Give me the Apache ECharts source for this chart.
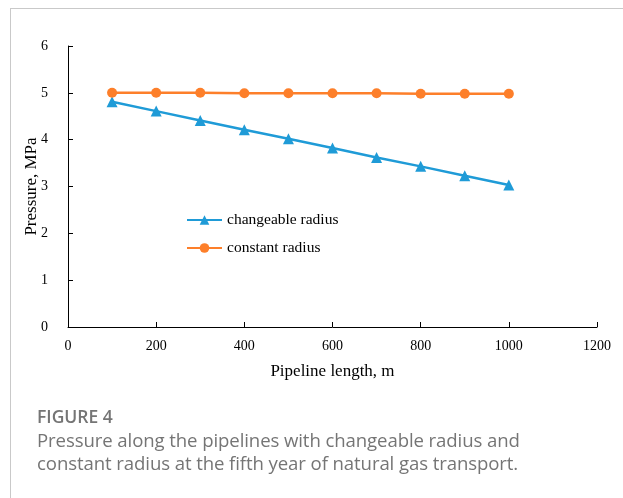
<!DOCTYPE html>
<html>
<head>
<meta charset="utf-8">
<script src="https://cdn.jsdelivr.net/npm/echarts@6/dist/echarts.min.js"></script>
<style>
	html, body { margin: 0; padding: 0; background: #fff; }
	#wrap { position: relative; width: 623px; height: 498px; overflow: hidden; }
	#frame { position: absolute; left: 10px; top: 8px; width: 700px; height: 600px; border-left: 1px solid #c9c9c9; border-top: 1px solid #c9c9c9; }
	#chart { position: absolute; left: 0; top: 0; width: 623px; height: 498px; }
	#caption { position: absolute; left: 37px; top: 404px; font-family: "Open Sans", sans-serif; color: #757575; }
	#caption .fig { font-size: 17.5px; font-weight: 600; line-height: 24px; }
	#caption .txt { font-size: 18.6px; line-height: 23px; letter-spacing: -0.1px; }
</style>
</head>
<body>
<div id="wrap">
	<div id="frame"></div>
	<div id="chart"></div>
	<div id="caption">
		<div class="fig">FIGURE 4</div>
		<div class="txt">Pressure along the pipelines with changeable radius and<br>constant radius at the fifth year of natural gas transport.</div>
	</div>
</div>
<script>
//管道长度 (m)
var lengthList = [100, 200, 300, 400, 500, 600, 700, 800, 900, 1000];
//变半径压力 (MPa)
var changeableList = [4.81, 4.61, 4.41, 4.21, 4.02, 3.82, 3.62, 3.43, 3.23, 3.03];
//定半径压力 (MPa)
var constantList = [5.00, 5.00, 5.00, 4.99, 4.99, 4.99, 4.99, 4.98, 4.98, 4.98];

function pairs(xs, ys) {
	var out = [];
	for (var i = 0; i < xs.length; i++) {
		out.push([xs[i], ys[i]]);
	}
	return out;
}

var serif = '"Liberation Serif", "Times New Roman", serif';
var chart = echarts.init(document.getElementById('chart'));
var option = {
	animation: false,
	grid: { left: 68, right: 26, top: 46, bottom: 171 },
	legend: {
		orient: 'vertical',
		left: 181,
		top: 207,
		itemWidth: 35,
		itemHeight: 12,
		itemGap: 12,
		textStyle: { fontFamily: serif, fontSize: 15.5, color: '#000' },
		data: ['changeable radius', 'constant radius']
	},
	xAxis: {
		type: 'value',
		min: 0,
		max: 1200,
		interval: 200,
		name: 'Pipeline length, m',
		nameLocation: 'middle',
		nameGap: 36,
		nameTextStyle: { fontFamily: serif, fontSize: 17, color: '#000' },
		axisLine: { lineStyle: { color: '#000', width: 1 } },
		axisTick: { inside: true, length: 5, lineStyle: { color: '#000' } },
		axisLabel: {
			fontFamily: serif, fontSize: 14, color: '#000', margin: 12,
			formatter: function(v) { return String(v); }
		},
		splitLine: { show: false }
	},
	yAxis: {
		type: 'value',
		min: 0,
		max: 6,
		interval: 1,
		name: 'Pressure, MPa',
		nameLocation: 'middle',
		nameGap: 28,
		nameMoveOverlap: false,
		nameTextStyle: { fontFamily: serif, fontSize: 17, color: '#000' },
		axisLine: { show: true, lineStyle: { color: '#000', width: 1 } },
		axisTick: { show: true, inside: true, length: 5, lineStyle: { color: '#000' } },
		axisLabel: { fontFamily: serif, fontSize: 14, color: '#000', margin: 20 },
		splitLine: { show: false }
	},
	series: [{
		name: 'changeable radius',
		type: 'line',
		data: pairs(lengthList, changeableList),
		symbol: 'triangle',
		symbolSize: 11,
		itemStyle: { color: '#1f9bd7' },
		lineStyle: { color: '#1f9bd7', width: 2.5 }
	}, {
		name: 'constant radius',
		type: 'line',
		data: pairs(lengthList, constantList),
		symbol: 'circle',
		symbolSize: 10,
		itemStyle: { color: '#fd7f2a' },
		lineStyle: { color: '#fd7f2a', width: 2.5 }
	}]
};
chart.setOption(option);
</script>
</body>
</html>
